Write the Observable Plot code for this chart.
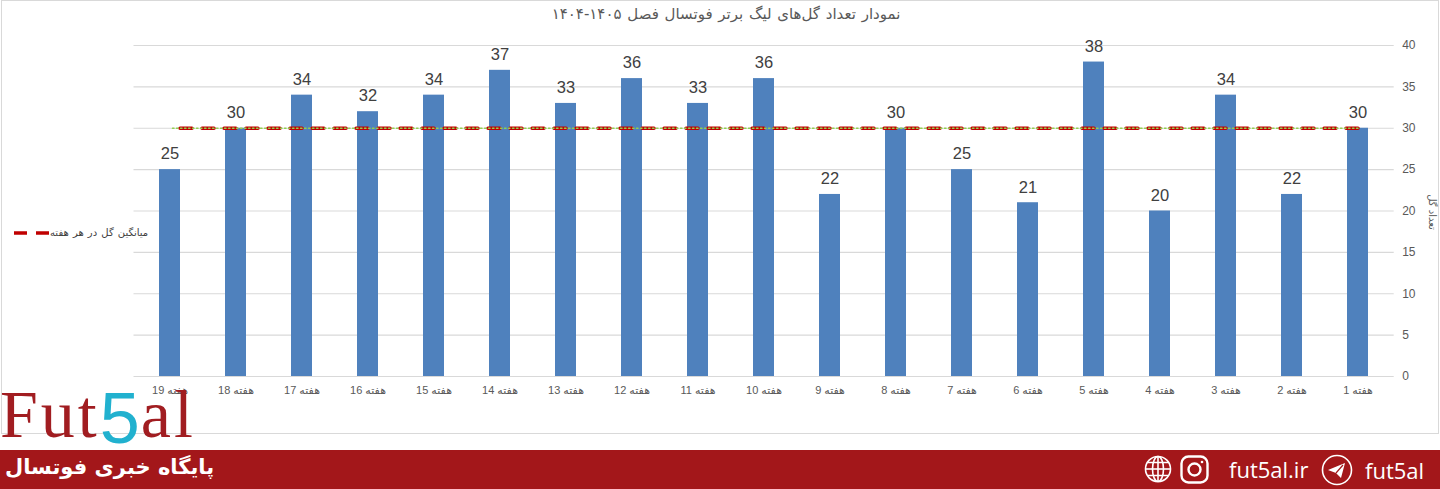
<!DOCTYPE html>
<html>
<head>
<meta charset="utf-8">
<script src="https://cdn.jsdelivr.net/npm/d3@7"></script>
<script src="https://cdn.jsdelivr.net/npm/@observablehq/plot@0.6"></script>
<style>
  html, body { margin:0; padding:0; background:#fff; }
  #page { position:relative; width:1440px; height:489px; overflow:hidden; background:#fff; }
  #chart { position:absolute; left:0; top:0; }
  #frame { position:absolute; left:1px; top:0; width:1436px; height:432px; border:1px solid #d9d9d9; box-sizing:content-box; pointer-events:none; }
  #title { position:absolute; top:5px; left:0; width:1452px; text-align:center; font:15px "DejaVu Sans", sans-serif; color:#595959; direction:rtl; word-spacing:1px; }
  #legend { position:absolute; left:12px; top:227px; display:flex; align-items:center; font:10px "DejaVu Sans", sans-serif; color:#404040; word-spacing:1px; }
  #ylabel { position:absolute; left:1432px; top:212px; transform:translate(-50%,-50%) rotate(90deg); font:10px "DejaVu Sans", sans-serif; color:#595959; white-space:nowrap; direction:rtl; }
  #logo { position:absolute; left:0; top:376px; font-family:"Liberation Serif", serif; font-size:68px; color:#a11d21; letter-spacing:3px; line-height:1; white-space:nowrap; }
  #logo .five { font-family:"Liberation Sans", sans-serif; color:#21b1cf; font-size:72px; position:relative; top:6px; letter-spacing:1px; }
  #banner { position:absolute; left:0; top:450px; width:1440px; height:39px; background:#a3171a; }
  #banner .fa { position:absolute; left:5px; top:5px; font:bold 21px "DejaVu Sans", sans-serif; color:#fff; direction:rtl; white-space:nowrap; letter-spacing:-0.5px; }
  #banner .en { position:absolute; top:4px; font:22px "Open Sans", sans-serif; color:#fff; white-space:nowrap; }
  #banner svg.icon { position:absolute; top:5px; }
</style>
</head>
<body>
<div id="page">
  <div id="chart"></div>
  <div id="frame"></div>
  <div id="title">نمودار تعداد گل‌های لیگ برتر فوتسال فصل ۱۴۰۵-۱۴۰۴</div>
  <div id="legend">
    <svg width="38" height="10"><line x1="2" y1="5" x2="38" y2="5" stroke="#c00000" stroke-width="3.5" stroke-dasharray="13,9"></line></svg>
    <span dir="rtl">میانگین گل در هر هفته</span>
  </div>
  <div id="ylabel">تعداد گل</div>
  <div id="logo">Fut<span class="five">5</span>al</div>
  <div id="banner">
    <div class="fa">پایگاه خبری فوتسال</div>
    <svg class="icon" style="left:1144px" width="28" height="28" viewBox="0 0 28 28" fill="none" stroke="#fff" stroke-width="1.6">
      <circle cx="14" cy="14" r="12.5"></circle>
      <ellipse cx="14" cy="14" rx="5.5" ry="12.5"></ellipse>
      <line x1="14" y1="1.5" x2="14" y2="26.5"></line>
      <line x1="1.5" y1="14" x2="26.5" y2="14"></line>
      <path d="M3.5 7.5 H24.5 M3.5 20.5 H24.5"></path>
    </svg>
    <svg class="icon" style="left:1180px" width="29" height="29" viewBox="0 0 29 29" fill="none" stroke="#fff" stroke-width="2.4">
      <rect x="1.5" y="1.5" width="26" height="26" rx="7"></rect>
      <circle cx="14.5" cy="14.5" r="6"></circle>
      <circle cx="22" cy="7" r="1.3" fill="#fff" stroke="none"></circle>
    </svg>
    <div class="en" style="left:1229px">fut5al.ir</div>
    <svg class="icon" style="left:1321px;top:4px" width="32" height="32" viewBox="0 0 32 32" fill="none" stroke="#fff" stroke-width="1.6">
      <circle cx="16" cy="16" r="14.5"></circle>
      <path d="M7 16 L24 9 L20 24 L15 19 Z" fill="#fff" stroke="none"></path>
      <path d="M15 19 L22 11" stroke="#a3171a" stroke-width="1.2"></path>
    </svg>
    <div class="en" style="left:1365px;top:5px">fut5al</div>
  </div>
</div>
<script>
const weeks = ["هفته 1","هفته 2","هفته 3","هفته 4","هفته 5","هفته 6","هفته 7","هفته 8","هفته 9","هفته 10","هفته 11","هفته 12","هفته 13","هفته 14","هفته 15","هفته 16","هفته 17","هفته 18","هفته 19"];
const goals = [30,22,34,20,38,21,25,30,22,36,33,36,33,37,34,32,34,30,25];
const avgGoals = 30;
const yTicks = [0,5,10,15,20,25,30,35,40];

const rows = weeks.map((w, i) => ({week: w, goals: goals[i]}));

const chart = Plot.plot({
  width: 1440,
  height: 433,
  marginLeft: 133.5,
  marginRight: 46.3,
  marginTop: 45,
  marginBottom: 57,
  style: {fontFamily: "'Liberation Sans','DejaVu Sans',sans-serif", background: "transparent", overflow: "visible"},
  x: {domain: weeks.slice().reverse(), paddingInner: 0.68, paddingOuter: 0.34, axis: null, label: null},
  y: {domain: [0, 40], axis: null, label: null},
  marks: [
    Plot.gridY(yTicks, {stroke: "#d9d9d9", strokeOpacity: 1, strokeWidth: 1.2}),
    Plot.barY(rows, {x: "week", y: "goals", fill: "#4f81bd"}),
    Plot.line(weeks, {x: d => d, y: () => avgGoals, stroke: "#c00000", strokeWidth: 3.5, strokeDasharray: "12,10"}),
    Plot.line(weeks, {x: d => d, y: () => avgGoals, stroke: "#92d050", strokeWidth: 1.5, strokeDasharray: "1.5,2.5"}),
    Plot.text(rows, {x: "week", y: "goals", text: d => String(d.goals), dy: -15.5, fontSize: 16.5, fill: "#404040"}),
    Plot.axisY(yTicks, {anchor: "right", tickSize: 0, tickPadding: 8, fontSize: 12, color: "#595959", label: null}),
    Plot.axisX({tickSize: 0, tickPadding: 10, fontSize: 11, color: "#595959", label: null, tickFormat: d => "\u202B" + d + "\u202C"})
  ]
});
document.getElementById("chart").appendChild(chart);
</script>
</body>
</html>
